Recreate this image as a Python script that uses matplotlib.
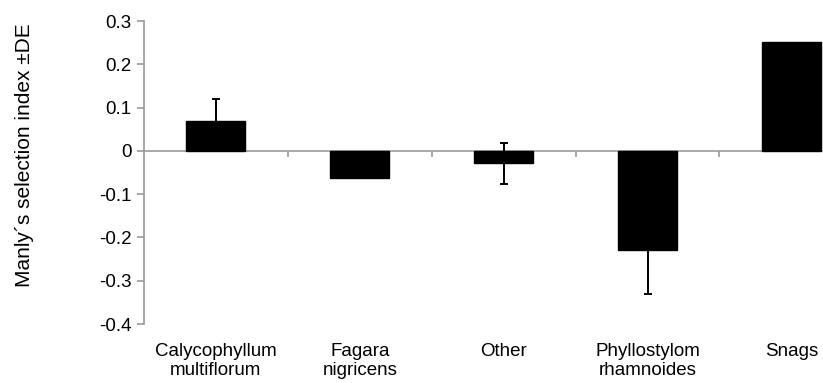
import numpy as np
import matplotlib.pyplot as plt

plt.rcParams['font.family'] = ['Liberation Sans', 'DejaVu Sans']

# Datos
categorias = ['Calycophyllum\nmultiflorum', 'Fagara\nnigricens', 'Other',
              'Phyllostylom\nrhamnoides', 'Snags']
indice = [0.068, -0.062, -0.029, -0.229, 0.251]
error = [0.052, 0.0, 0.047, 0.102, 0.0]
yticks = [-0.4, -0.3, -0.2, -0.1, 0, 0.1, 0.2, 0.3]

gris = '#9a9a9a'

fig = plt.figure(figsize=(8.23, 3.83), dpi=100)
ax = fig.add_axes([0.175, 0.154, 0.825, 0.791])

x = np.arange(len(categorias))
ax.bar(x, indice, width=0.41, color='black', edgecolor='black', zorder=3)

# solo las barras con desviacion
con_error = [i for i in range(len(error)) if error[i] > 0]
ax.errorbar(x[con_error], [indice[i] for i in con_error],
            yerr=[error[i] for i in con_error], fmt='none', ecolor='black',
            elinewidth=1.4, capsize=2.8, capthick=1.4, zorder=4)

ax.set_ylim(-0.4, 0.3)
ax.set_xlim(-0.5, 4.22)
ax.set_yticks(yticks)
ax.set_yticklabels(['0' if v == 0 else f'{v:.1f}' for v in yticks], fontsize=13.5)

# eje x en el cero, con marcas entre categorias
for lado in ['top', 'right']:
    ax.spines[lado].set_visible(False)
ax.spines['bottom'].set_position(('data', 0))
ax.spines['bottom'].set_color(gris)
ax.spines['left'].set_color(gris)
ax.spines['bottom'].set_linewidth(1.2)
ax.spines['left'].set_linewidth(1.2)
ax.set_xticks(x)
ax.set_xticklabels([])
ax.tick_params(axis='x', which='major', length=0)
ax.set_xticks(x[:-1] + 0.5, minor=True)
ax.tick_params(axis='x', which='minor', length=4, color=gris, width=1.2, direction='out')
ax.tick_params(axis='y', length=5, color=gris, width=1.2, direction='out', pad=4)

# etiquetas de categoria debajo del grafico
sec = ax.secondary_xaxis('bottom')
sec.set_xticks(x)
sec.set_xticklabels(categorias, fontsize=13.5, linespacing=1.1)
sec.tick_params(length=0, pad=14)
sec.spines['bottom'].set_visible(False)

ax.set_ylabel('Manly´s selection index ±DE', fontsize=15)
ax.yaxis.set_label_coords(-0.162, 0.557)

fig.savefig('out.png', dpi=100)
